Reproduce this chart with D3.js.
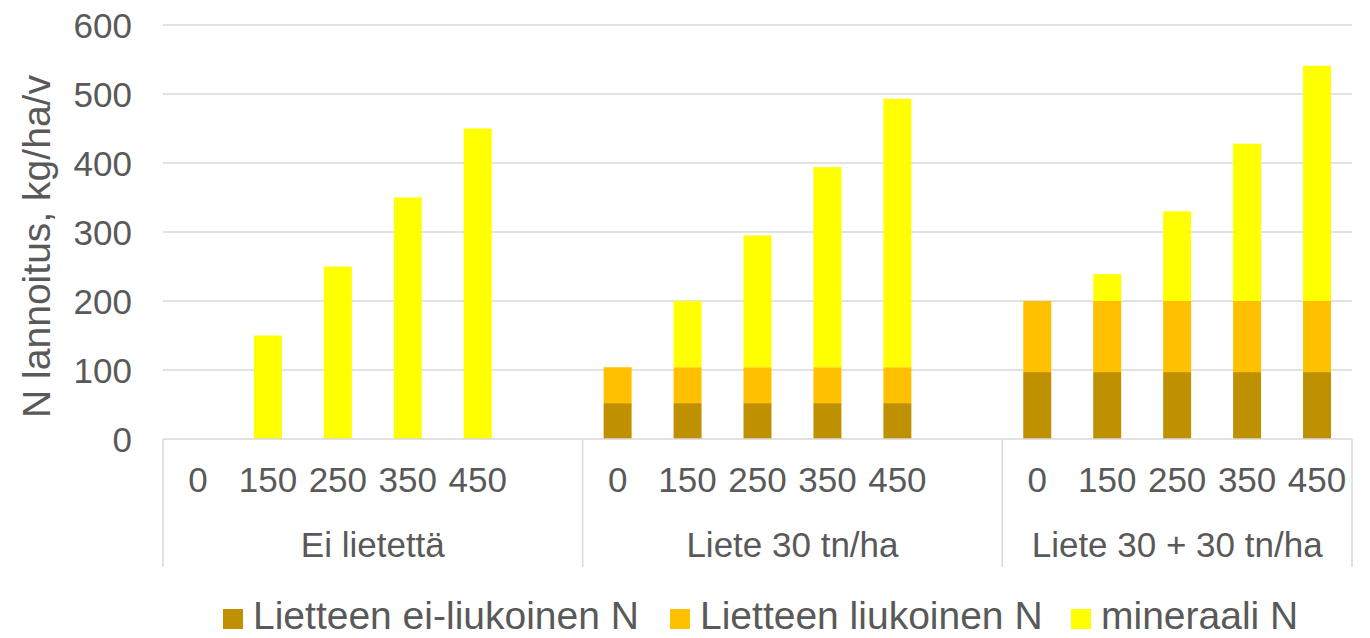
<!DOCTYPE html>
<html>
<head>
<meta charset="utf-8">
<script src="https://cdn.jsdelivr.net/npm/d3@7"></script>
<style>
  html, body { margin: 0; padding: 0; background: #fff; }
  svg { display: block; font-family: "Liberation Sans", Arial, sans-serif; }
</style>
</head>
<body>
<svg id="chart" width="1370" height="638"></svg>
<script>
// ---- Data ----
const groups = ["Ei lietettä", "Liete 30 tn/ha", "Liete 30 + 30 tn/ha"];
const subcats = ["0", "150", "250", "350", "450"];
const seriesNames = ["Lietteen ei-liukoinen N", "Lietteen liukoinen N", "mineraali N"];
const seriesColors = ["#BF9000", "#FFC000", "#FFFF00"];
// values per group, in subcat order
const eiLiukoinen = [
  [0, 0, 0, 0, 0],
  [52, 52, 52, 52, 52],
  [97, 97, 97, 97, 97]
];
const liukoinen = [
  [0, 0, 0, 0, 0],
  [52, 52, 52, 52, 52],
  [103, 103, 103, 103, 103]
];
const mineraali = [
  [0, 150, 250, 350, 450],
  [0, 96, 191, 290, 389],
  [0, 39, 130, 228, 341]
];
const yTicks = [0, 100, 200, 300, 400, 500, 600];
const yTitle = "N lannoitus, kg/ha/v";

// ---- Layout ----
const svg = d3.select("#chart");
const plotLeft = 163, plotRight = 1352, plotTop = 25, plotBottom = 439;
const textColor = "#595959", gridColor = "#d9d9d9";

// slot keys: each group's subcats, with a blank slot between groups
const slots = [];
groups.forEach((g, gi) => {
  subcats.forEach(s => slots.push(gi + "|" + s));
  if (gi < groups.length - 1) slots.push(gi + "|blank");
});

const x = d3.scaleBand().domain(slots).range([plotLeft, plotRight])
  .paddingInner(0.6).paddingOuter(0.3);
const y = d3.scaleLinear().domain([0, 600]).range([plotBottom, plotTop]);

// gridlines
svg.append("g").selectAll("line").data(yTicks.filter(t => t > 0)).join("line")
  .attr("x1", plotLeft).attr("x2", plotRight)
  .attr("y1", d => y(d)).attr("y2", d => y(d))
  .attr("stroke", gridColor).attr("stroke-width", 1.5);

// y-axis labels
const yAxis = d3.axisLeft(y).tickValues(yTicks).tickSize(0).tickPadding(0);
const yg = svg.append("g").attr("transform", `translate(${plotLeft - 31},0)`).call(yAxis);
yg.select(".domain").remove();
yg.selectAll("text").attr("fill", textColor).style("font-size", "35px")
  .style("font-family", "'Liberation Sans', Arial, sans-serif").attr("dy", "0.35em");

// y title (sized to span the same length as in the reference)
const titleTopY = 75, titleBottomY = 418;
const yt = svg.append("text")
  .attr("transform", `translate(50,${(titleTopY + titleBottomY) / 2}) rotate(-90)`)
  .attr("text-anchor", "middle").attr("fill", textColor)
  .style("font-size", "38px").text(yTitle);
const ytLen = yt.node().getComputedTextLength();
yt.style("font-size", (38 * (titleBottomY - titleTopY) / ytLen).toFixed(2) + "px");

// stacked data
const rows = [];
groups.forEach((g, gi) => subcats.forEach((s, si) => {
  rows.push({ key: gi + "|" + s, v0: eiLiukoinen[gi][si], v1: liukoinen[gi][si], v2: mineraali[gi][si] });
}));
const stack = d3.stack().keys(["v0", "v1", "v2"])(rows);

svg.append("g").selectAll("g").data(stack).join("g")
  .attr("fill", (d, i) => seriesColors[i])
  .selectAll("rect").data(d => d.filter(p => p[1] > p[0])).join("rect")
  .attr("x", d => x(d.data.key)).attr("width", x.bandwidth())
  .attr("y", d => y(d[1])).attr("height", d => y(d[0]) - y(d[1]));

// category axis (multi-level)
const axisG = svg.append("g");
axisG.append("line").attr("x1", plotLeft).attr("x2", plotRight)
  .attr("y1", plotBottom).attr("y2", plotBottom)
  .attr("stroke", gridColor).attr("stroke-width", 1.5);

const step = x.step();
const groupBounds = groups.map((g, gi) => {
  const first = x(gi + "|" + subcats[0]) - (step - x.bandwidth()) / 2;
  const lastKey = gi < groups.length - 1 ? gi + "|blank" : gi + "|" + subcats[subcats.length - 1];
  const last = x(lastKey) + x.bandwidth() + (step - x.bandwidth()) / 2;
  return [first, last];
});
const sepX = [groupBounds[0][0]].concat(groupBounds.map(b => b[1]));
axisG.selectAll("line.sep").data(sepX).join("line").attr("class", "sep")
  .attr("x1", d => d).attr("x2", d => d)
  .attr("y1", plotBottom).attr("y2", 567)
  .attr("stroke", gridColor).attr("stroke-width", 1.5);

axisG.selectAll("text.sub").data(rows).join("text").attr("class", "sub")
  .attr("x", d => x(d.key) + x.bandwidth() / 2).attr("y", 492)
  .attr("text-anchor", "middle").attr("fill", textColor)
  .style("font-size", "35px").text(d => d.key.split("|")[1]);

axisG.selectAll("text.grp").data(groups).join("text").attr("class", "grp")
  .attr("x", (d, i) => (groupBounds[i][0] + groupBounds[i][1]) / 2)
  .attr("y", 557).attr("text-anchor", "middle").attr("fill", textColor)
  .style("font-size", "35px").text(d => d);

// legend
const legendX = [223, 670, 1071];
const lg = svg.append("g").selectAll("g").data(seriesNames).join("g")
  .attr("transform", (d, i) => `translate(${legendX[i]},0)`);
lg.append("rect").attr("x", 0).attr("y", 609).attr("width", 20).attr("height", 20)
  .attr("fill", (d, i) => seriesColors[i]);
lg.append("text").attr("x", 30).attr("y", 629).attr("fill", textColor)
  .style("font-size", "39px").text(d => d);
</script>
</body>
</html>
